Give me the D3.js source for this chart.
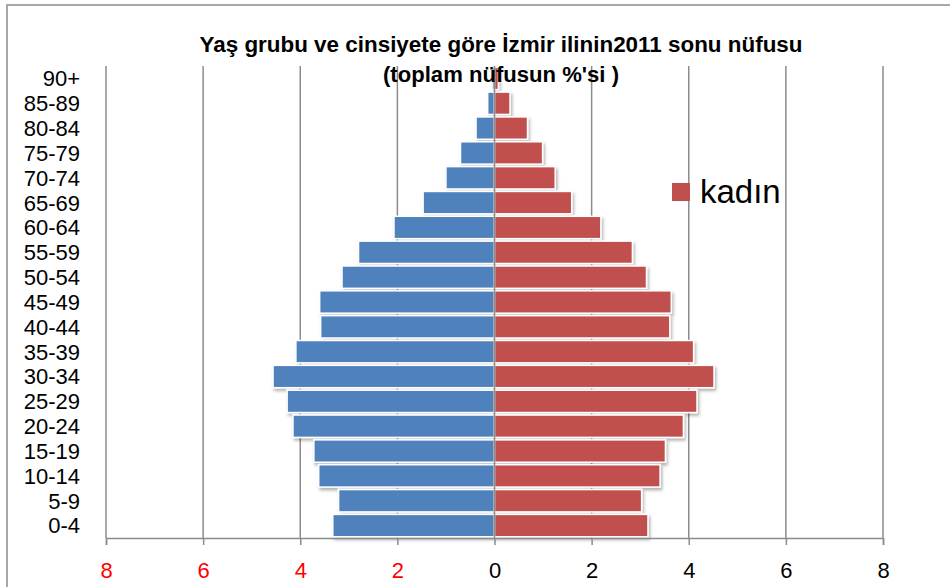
<!DOCTYPE html>
<html>
<head>
<meta charset="utf-8">
<script src="https://cdn.jsdelivr.net/npm/d3@7"></script>
<style>
  body { margin: 0; background: #fff; }
  text { font-family: "Liberation Sans", Arial, sans-serif; }
</style>
</head>
<body>
<svg width="950" height="587"></svg>
<script>
const ageGroups = ['90+', '85-89', '80-84', '75-79', '70-74', '65-69', '60-64', '55-59', '50-54',
  '45-49', '40-44', '35-39', '30-34', '25-29', '20-24', '15-19', '10-14', '5-9', '0-4']
// erkek (left, blue) and kadın (right, red), % of total population
const erkek = [0.05, 0.14, 0.38, 0.70, 1.00, 1.47, 2.07, 2.80, 3.14, 3.60, 3.58, 4.09, 4.56, 4.27, 4.15, 3.72, 3.62, 3.21, 3.33]
const kadin = [0.08, 0.32, 0.68, 0.99, 1.25, 1.59, 2.19, 2.84, 3.13, 3.64, 3.61, 4.10, 4.52, 4.17, 3.89, 3.52, 3.41, 3.03, 3.16]
const tickValues = [-8, -6, -4, -2, 0, 2, 4, 6, 8]

const svg = d3.select('svg')
const margin = { top: 66, right: 67, bottom: 49, left: 106 }
const width = +svg.attr('width') - margin.left - margin.right
const height = +svg.attr('height') - margin.top - margin.bottom
const grid = '#8c8c8c'

// chart frame
svg.append('rect')
  .attr('x', 7).attr('y', 5)
  .attr('width', 980).attr('height', 620)
  .attr('fill', '#fff')
  .attr('stroke', grid)
  .attr('stroke-width', 1.5)

const defs = svg.append('defs')
const shadow = defs.append('filter').attr('id', 'shadow')
  .attr('x', '-20%').attr('y', '-20%').attr('width', '140%').attr('height', '160%')
shadow.append('feDropShadow')
  .attr('dx', 1.5).attr('dy', 2.5)
  .attr('stdDeviation', 1.8)
  .attr('flood-color', '#000')
  .attr('flood-opacity', 0.3)

const g = svg.append('g').attr('transform', `translate(${margin.left},${margin.top})`)

const x = d3.scaleLinear().domain([-8, 8]).range([0, width])
const y = d3.scaleBand().domain(ageGroups).range([0, height]).paddingInner(0.1).paddingOuter(0.05)

// vertical gridlines
g.selectAll('.grid')
  .data(tickValues)
  .enter().append('line')
  .attr('class', 'grid')
  .attr('x1', d => x(d)).attr('x2', d => x(d))
  .attr('y1', 0).attr('y2', height)
  .attr('stroke', grid)
  .attr('stroke-width', 1.5)

const bars = g.append('g').attr('filter', 'url(#shadow)')

bars.selectAll('.erkek')
  .data(ageGroups)
  .enter().append('rect')
  .attr('class', 'erkek')
  .attr('x', (d, i) => x(-erkek[i]))
  .attr('width', (d, i) => x(0) - x(-erkek[i]))
  .attr('y', d => y(d))
  .attr('height', y.bandwidth())
  .attr('fill', '#4f81bd')
  .attr('stroke', '#fff')
  .attr('stroke-width', 1.5)

bars.selectAll('.kadin')
  .data(ageGroups)
  .enter().append('rect')
  .attr('class', 'kadin')
  .attr('x', x(0))
  .attr('width', (d, i) => x(kadin[i]) - x(0))
  .attr('y', d => y(d))
  .attr('height', y.bandwidth())
  .attr('fill', '#c0504d')
  .attr('stroke', '#fff')
  .attr('stroke-width', 1.5)

// zero line on top of bars
g.append('line')
  .attr('x1', x(0)).attr('x2', x(0))
  .attr('y1', 0).attr('y2', height)
  .attr('stroke', grid)
  .attr('stroke-width', 1.5)

// bottom axis
const xAxis = g.append('g')
  .attr('transform', `translate(0,${height})`)
  .call(d3.axisBottom(x).tickValues(tickValues).tickFormat(d => Math.abs(d)).tickSize(7).tickPadding(17))
xAxis.select('.domain').attr('stroke', grid).attr('stroke-width', 1.5)
xAxis.selectAll('.tick line').attr('stroke', grid).attr('stroke-width', 1.5)
xAxis.selectAll('.tick text')
  .attr('font-size', 22)
  .attr('font-family', '"Liberation Sans", Arial, sans-serif')
  .attr('fill', d => d < 0 ? '#ff0000' : '#000')

// category labels
g.selectAll('.age')
  .data(ageGroups)
  .enter().append('text')
  .attr('class', 'age')
  .attr('x', 80 - margin.left)
  .attr('y', d => y(d) + y.bandwidth() / 2)
  .attr('dy', '0.36em')
  .attr('text-anchor', 'end')
  .attr('font-size', 22)
  .attr('fill', '#000')
  .text(d => d)

// title
svg.append('text')
  .attr('x', 501).attr('y', 52)
  .attr('text-anchor', 'middle')
  .attr('font-size', 22)
  .attr('font-weight', 'bold')
  .attr('textLength', 603)
  .attr('lengthAdjust', 'spacingAndGlyphs')
  .text('Yaş grubu ve cinsiyete göre İzmir ilinin2011 sonu nüfusu')
svg.append('text')
  .attr('x', 501).attr('y', 82)
  .attr('text-anchor', 'middle')
  .attr('font-size', 22)
  .attr('font-weight', 'bold')
  .attr('textLength', 236)
  .attr('lengthAdjust', 'spacingAndGlyphs')
  .text("(toplam nüfusun %'si )")

// legend
svg.append('rect')
  .attr('x', 672).attr('y', 183)
  .attr('width', 18).attr('height', 18)
  .attr('fill', '#c0504d')
svg.append('text')
  .attr('x', 700).attr('y', 203)
  .attr('font-size', 33)
  .attr('fill', '#000')
  .text('kadın')
</script>
</body>
</html>
